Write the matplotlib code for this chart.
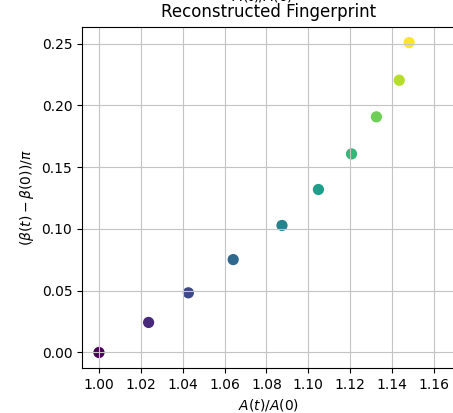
import matplotlib
matplotlib.use("Agg")
import matplotlib.pyplot as plt
import numpy as np

amp_ratio = [1.000, 1.0237, 1.0427, 1.0641, 1.0874, 1.1048, 1.1206, 1.1325, 1.1434, 1.1481]
phase_shift = [0.000, 0.0243, 0.0483, 0.0752, 0.1028, 0.1319, 0.1607, 0.1907, 0.2203, 0.2508]
color_index = list(range(len(amp_ratio)))
x_ticks = [1.00, 1.02, 1.04, 1.06, 1.08, 1.10, 1.12, 1.14, 1.16]
y_ticks = [0.00, 0.05, 0.10, 0.15, 0.20, 0.25]

fig = plt.figure(figsize=(4.53, 4.13), dpi=100)
ax = fig.add_axes([82/453, 45/413, 374/453, 341/413])
ax.scatter(amp_ratio, phase_shift, c=color_index, cmap="viridis", s=50)
ax.set_xlim(0.9919, 1.1705)
ax.set_ylim(-0.01255, 0.2634)
ax.set_xticks(x_ticks)
ax.set_yticks(y_ticks)
ax.grid(True, color="#c4c4c4")
ax.set_xlabel(r"$A(t)/A(0)$")
ax.set_ylabel(r"$(\beta(t)-\beta(0))/\pi$")
ax.set_title("Reconstructed Fingerprint", pad=7)
fig.text(263/453, 1 - 0.5/413, r"$A(t)/A(0)$", ha="center", va="baseline", fontsize=10)
fig.savefig("out.png", dpi=100)
